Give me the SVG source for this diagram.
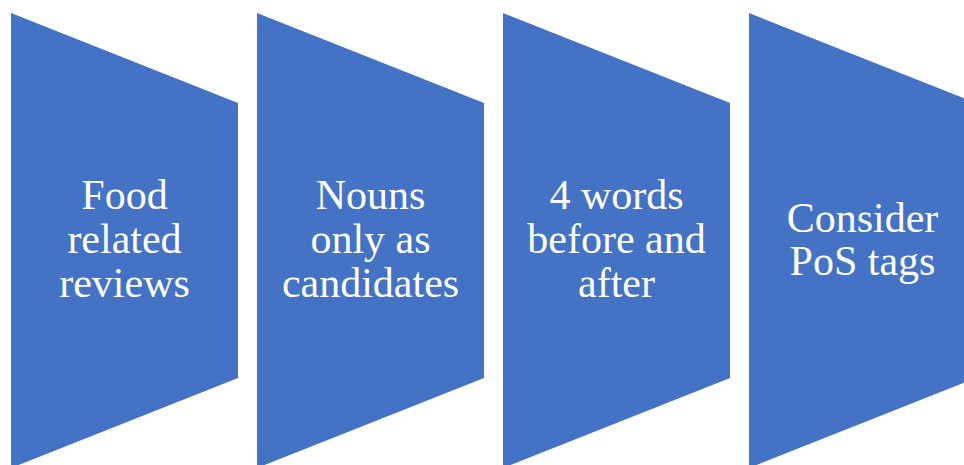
<svg xmlns="http://www.w3.org/2000/svg" width="964" height="465" viewBox="0 0 964 465">
<style>
.s{fill:#4472C4}
.t{fill:#fff;font-family:"Liberation Serif","Times New Roman",serif;font-size:42px;text-anchor:middle}
</style>
<rect width="964" height="465" fill="#fff"/>
<g id="node1"><polygon class="s" points="11,13 238,103 238,378 11,468"/>
<text class="t"><tspan x="124.5" y="209">Food</tspan><tspan x="124.5" y="253">related</tspan><tspan x="124.5" y="297">reviews</tspan></text></g>
<g id="node2"><polygon class="s" points="257,13 484,103 484,378 257,468"/>
<text class="t"><tspan x="370.5" y="209">Nouns</tspan><tspan x="370.5" y="253">only as</tspan><tspan x="370.5" y="297">candidates</tspan></text></g>
<g id="node3"><polygon class="s" points="503,13 730,103 730,378 503,468"/>
<text class="t"><tspan x="616.5" y="209">4 words</tspan><tspan x="616.5" y="253">before and</tspan><tspan x="616.5" y="297">after</tspan></text></g>
<g id="node4"><polygon class="s" points="749,13 976,103 976,378 749,468"/>
<text class="t"><tspan x="862.5" y="232">Consider</tspan><tspan x="862.5" y="275">PoS tags</tspan></text></g>
<g id="connectors"></g>
</svg>
